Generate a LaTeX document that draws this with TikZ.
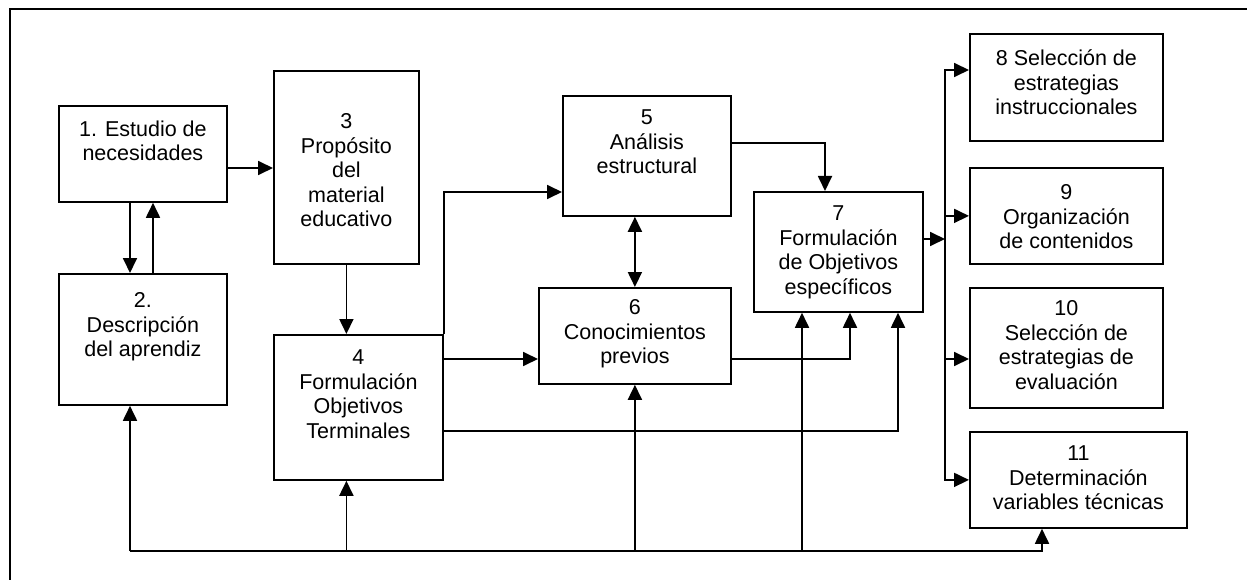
\documentclass[tikz,border=0pt]{standalone}
\usepackage{fontspec}
\setmainfont{Liberation Sans}
\usetikzlibrary{arrows.meta}
\tikzset{
>={Triangle[length=15pt,width=14pt]},
  bloque/.style={
    rectangle,
    draw=black, line width=1.8pt,
    inner sep=0pt,
    anchor=north west,
    font=\fontsize{21.5pt}{24.5pt}\selectfont},
  flecha/.style={draw, line width=1.8pt, ->},
  doble/.style={draw, line width=1.8pt, <->},
  marco/.style={draw, line width=1.6pt},
}
% ancho, alto, espacio superior, texto
\newcommand\cajatexto[4]{\parbox[c][#2][t]{#1}{\centering\vspace*{#3}#4}}

\begin{document}
\begin{tikzpicture}[x=1pt,y=-1pt]
    \useasboundingbox (0,0) rectangle (1247,580);
    \draw[marco] (10,580) -- (10,9) -- (1247,9);

    % columna izquierda
    \node[bloque] (estudio) at (58,105) {\cajatexto{168pt}{96pt}{15pt}{1. Estudio de\\necesidades}};
    \node[bloque] (descripcion) at (58,273) {\cajatexto{168pt}{131pt}{19pt}{2.\\Descripción\\del aprendiz}};
    \node[bloque] (proposito) at (273,70) {\cajatexto{145pt}{193pt}{43pt}{3\\Propósito\\del\\material\\educativo}};
    \node[bloque] (terminales) at (273,334) {\cajatexto{169pt}{145pt}{15pt}{4\\Formulación\\Objetivos\\Terminales}};

    % centro
    \node[bloque] (analisis) at (562,95) {\cajatexto{168pt}{120pt}{14pt}{5\\Análisis\\estructural}};
    \node[bloque] (conocimientos) at (538,287) {\cajatexto{192pt}{96pt}{12pt}{6\\Conocimientos\\previos}};
    \node[bloque] (especificos) at (753,191) {\cajatexto{169pt}{120pt}{14pt}{7\\Formulación\\de Objetivos\\específicos}};

    % columna derecha
    \node[bloque] (instruccionales) at (969,33) {\cajatexto{193pt}{107pt}{16pt}{8 Selección de\\estrategias\\instruccionales}};
    \node[bloque] (organizacion) at (969,167) {\cajatexto{193pt}{96pt}{17pt}{9\\Organización\\de contenidos}};
    \node[bloque] (evaluacion) at (969,287) {\cajatexto{193pt}{120pt}{13pt}{10\\Selección de\\estrategias de\\evaluación}};
    \node[bloque] (variables) at (969,431) {\cajatexto{217pt}{96pt}{14pt}{11\\Determinación\\variables técnicas}};

    % flechas
    \draw[flecha] (estudio.east |- 0,168) -- (proposito.west |- 0,168);
    \draw[flecha] (estudio.south -| 130,0) -- (descripcion.north -| 130,0);
    \draw[flecha] (descripcion.north -| 153,0) -- (estudio.south -| 153,0);
    \draw[flecha] (proposito.south) -- (proposito.south |- terminales.north);
    \draw[flecha] (terminales.north east) |- (analisis.west |- 0,192);
    \draw[flecha] (terminales.east |- 0,359) -- (conocimientos.west |- 0,359);
    \draw[flecha] (terminales.east |- 0,431) -| (especificos.south -| 898,0);
    \draw[doble] (conocimientos.north) -- (conocimientos.north |- analisis.south);
    \draw[flecha] (analisis.east |- 0,143) -| (especificos.north -| 825,0);
    \draw[flecha] (conocimientos.east |- 0,359) -| (especificos.south -| 850,0);

    % retorno inferior
    \coordinate (busL) at (130,551);
    \coordinate (busR) at (1042,551);
    \draw[flecha] (busL) -- (busL |- descripcion.south);
    \draw[flecha] (busL) -- (busR) -- (busR |- variables.south);
    \draw[flecha] (proposito.south |- busL) -- (proposito.south |- terminales.south);
    \draw[flecha] (conocimientos.south |- busL) -- (conocimientos.south);
    \draw[flecha] (busL -| 802,0) -- (especificos.south -| 802,0);

    % salida hacia 8--11
    \coordinate (salida) at (945,239);
    \draw[flecha] (especificos.east |- salida) -- (salida);
    \draw[flecha] (salida) |- (instruccionales.west |- 0,70);
    \draw[flecha] (salida) |- (organizacion.west);
    \draw[flecha] (salida) |- (evaluacion.west |- 0,359);
    \draw[flecha] (salida) |- (variables.west);
\end{tikzpicture}
\end{document}
